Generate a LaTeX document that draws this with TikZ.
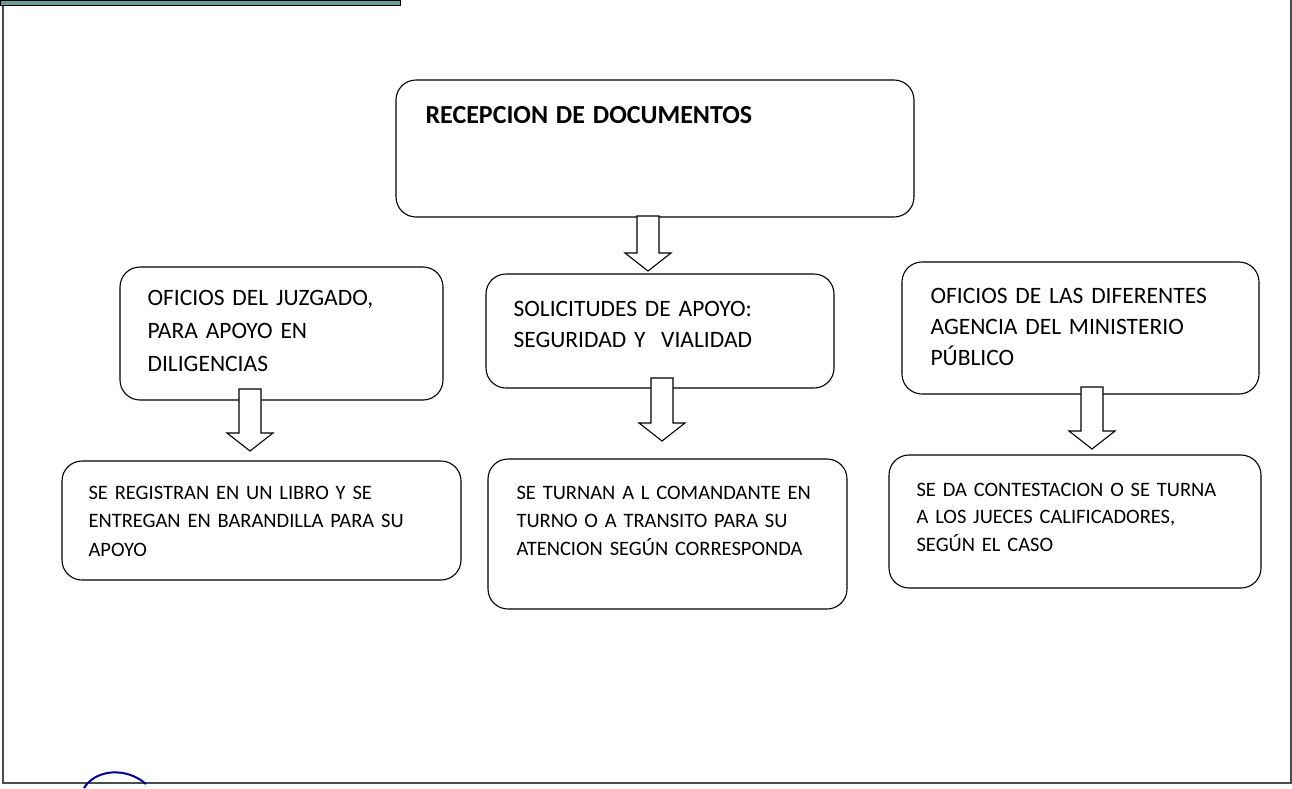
\documentclass[tikz,border=0pt]{standalone}
\usepackage{fontspec}
\setmainfont{Carlito}
\newcommand{\blockarrow}[3]{%
  \draw[fill=white] (#1-11,#2) -- (#1+11,#2) -- (#1+11,#3-18) -- (#1+23,#3-18)
    -- (#1,#3) -- (#1-23,#3-18) -- (#1-11,#3-18) -- cycle;}
\begin{document}
\begin{tikzpicture}[x=1pt,y=-1pt,line width=1.1pt,
  box/.style={draw,rounded corners=20pt},
  txt/.style={anchor=base west,inner sep=0pt,align=left,text width=360pt,font=\fontsize{20.5}{#1}\selectfont},
  txt/.default=28,
  bigtxt/.style={txt,font=\fontsize{23.5}{#1}\selectfont},
  bigtxt/.default=31]
  \useasboundingbox (0,0) rectangle (1292,788);
  % frame of the scanned page
  \draw[line width=1.3pt,black!70] (3,0) -- (3,783) -- (1291,783) -- (1291,0);
  \draw[line width=1pt,fill=teal!70!black!60] (0,0) rectangle (400,5);
  \draw[line width=2pt,blue!60!black] (84,788) .. controls (95,770) and (125,766) .. (146,784);
  % boxes
  \draw[box] (396,80) rectangle (914,217);
  \node[bigtxt] (recep) at (425,123) {\fontsize{26}{31}\selectfont\bfseries RECEPCION DE DOCUMENTOS};
  \draw[box] (120,267) rectangle (443,400);
  \node[bigtxt=33] (ofjuz) at (147,305) {OFICIOS DEL JUZGADO,\\PARA APOYO EN\\DILIGENCIAS};
  \draw[box] (486,274) rectangle (834,388);
  \node[bigtxt] (solic) at (513,316) {SOLICITUDES DE APOYO:\\SEGURIDAD Y\ \ VIALIDAD};
  \draw[box] (902,262) rectangle (1259,394);
  \node[bigtxt] (ofmin) at (930,303) {OFICIOS DE LAS DIFERENTES\\AGENCIA DEL MINISTERIO\\PÚBLICO};
  \draw[box] (62,461) rectangle (461,580);
  \node[txt=28.5] (regis) at (88,499) {SE REGISTRAN EN UN LIBRO Y SE\\ENTREGAN EN BARANDILLA PARA SU\\APOYO};
  \draw[box] (488,459) rectangle (847,609);
  \node[txt] (turna) at (516,499) {SE TURNAN A L COMANDANTE EN\\TURNO O A TRANSITO PARA SU\\ATENCION SEGÚN CORRESPONDA};
  \draw[box] (889,455) rectangle (1261,588);
  \node[txt=27.5] (contes) at (916,496) {SE DA CONTESTACION O SE TURNA\\A LOS JUECES CALIFICADORES,\\SEGÚN EL CASO};
  % block arrows
  \blockarrow{648}{216}{271}
  \blockarrow{250}{389}{451}
  \blockarrow{662}{378}{441}
  \blockarrow{1092}{387}{449}
\end{tikzpicture}
\end{document}
